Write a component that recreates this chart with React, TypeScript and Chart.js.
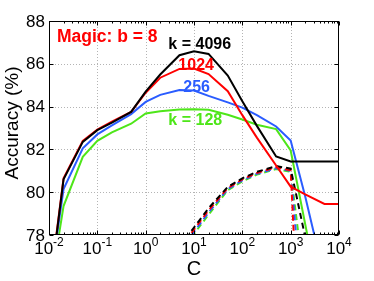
import React, { useEffect, useRef } from 'react';
import { Chart, registerables } from 'chart.js';

Chart.register(...registerables);

// ---------- data ----------
const cValues = [0.01, 0.02, 0.05, 0.1, 0.2, 0.5, 1, 2, 5, 10, 20, 50, 100, 200, 500, 1000, 2000, 5000, 10000];
const solidK4096 = [75.2, 80.6, 82.35, 82.9, 83.25, 83.75, 84.7, 85.5, 86.4, 86.58, 86.46, 85.45, 84.25, 83.1, 81.67, 81.44, 81.44, 81.44, 81.44];
const solidK1024 = [75.3, 80.65, 82.4, 82.92, 83.3, 83.75, 84.65, 85.35, 85.76, 85.78, 85.52, 84.72, 83.6, 82.55, 81.25, 80.26, 79.9, 79.45, 79.45];
const solidK256 = [75.4, 80.15, 82.05, 82.7, 83.12, 83.65, 84.22, 84.55, 84.77, 84.75, 84.5, 84.2, 83.95, 83.6, 83.07, 82.42, 79.8, 76.0, 75.5];
const solidK128 = [75.1, 79.35, 81.65, 82.4, 82.8, 83.2, 83.68, 83.78, 83.87, 83.88, 83.85, 83.62, 83.4, 83.15, 82.95, 81.95, 78.5, 74.0, 73.5];

const dashedC = [5, 10, 20, 50, 100, 200, 500, 1000, 2000];
const dashedK4096 = [77.45, 78.35, 79.25, 80.25, 80.65, 80.95, 81.22, 81.1, 77.9];
const dashedK1024 = [77.35, 78.25, 79.15, 80.2, 80.6, 80.9, 81.17, 81.02, 67.0];
const dashedK256 = [77.25, 78.15, 79.05, 80.15, 80.55, 80.86, 81.12, 81.0, 73.0];
const dashedK128 = [77.15, 78.05, 78.95, 80.1, 80.5, 80.82, 81.08, 80.95, 75.5];

const xDecades = [-2, -1, 0, 1, 2, 3, 4];
const yTicks = [78, 80, 82, 84, 86, 88];

// text annotations (placed in data coordinates)
const noteTexts = ['Magic: b = 8', 'k = 4096', '1024', '256', 'k = 128'];
const noteC = [0.0146, 2.95, 4.74, 6.0, 2.95];
const noteAcc = [87.01, 86.67, 85.69, 84.68, 83.13];

// ---------- styles ----------
const BLACK = '#000000';
const RED = '#ff0000';
const BLUE = '#2a5cff';
const GREEN = '#4ee619';
const noteColors = [RED, BLACK, RED, BLUE, GREEN];
const noteSizes = [17.5, 16, 16, 16, 16];
const FONT = '"Liberation Sans", Arial, Helvetica, sans-serif';

const axesPlugin = {
  id: 'matlabAxes',
  beforeDatasetsDraw(chart: any) {
    const { ctx, chartArea: a, scales } = chart;
    const x = scales.x;
    const y = scales.y;
    ctx.save();
    ctx.strokeStyle = '#b4b4b4';
    ctx.lineWidth = 1;
    ctx.setLineDash([1, 2]);
    for (const d of xDecades) {
      const px = Math.round(x.getPixelForValue(Math.pow(10, d))) + 0.5;
      if (px <= a.left + 1 || px >= a.right - 1) continue;
      ctx.beginPath();
      ctx.moveTo(px, a.top);
      ctx.lineTo(px, a.bottom);
      ctx.stroke();
    }
    for (const v of yTicks) {
      const py = Math.round(y.getPixelForValue(v)) + 0.5;
      if (py <= a.top + 1 || py >= a.bottom - 1) continue;
      ctx.beginPath();
      ctx.moveTo(a.left, py);
      ctx.lineTo(a.right, py);
      ctx.stroke();
    }
    ctx.restore();
  },
  afterDatasetsDraw(chart: any) {
    const { ctx, chartArea: a, scales } = chart;
    const x = scales.x;
    const y = scales.y;
    const L = Math.round(a.left) + 0.5;
    const R = Math.round(a.right) - 0.5;
    const T = Math.round(a.top) + 0.5;
    const B = Math.round(a.bottom) - 0.5;
    ctx.save();
    ctx.setLineDash([]);
    ctx.strokeStyle = '#000';
    ctx.lineWidth = 1;
    ctx.strokeRect(L, T, R - L, B - T);
    // x ticks (major + minor), inward, top & bottom
    ctx.beginPath();
    for (let d = -2; d <= 4; d++) {
      for (let k = 1; k <= 9; k++) {
        const v = k * Math.pow(10, d);
        if (v > 10000 + 1e-9) continue;
        const px = Math.round(x.getPixelForValue(v)) + 0.5;
        const len = k === 1 ? 4 : 2;
        ctx.moveTo(px, B);
        ctx.lineTo(px, B - len);
        ctx.moveTo(px, T);
        ctx.lineTo(px, T + len);
      }
    }
    for (const v of yTicks) {
      const py = Math.round(y.getPixelForValue(v)) + 0.5;
      ctx.moveTo(L, py);
      ctx.lineTo(L + 4, py);
      ctx.moveTo(R, py);
      ctx.lineTo(R - 4, py);
    }
    ctx.stroke();

    // y tick labels
    ctx.fillStyle = '#000';
    ctx.font = `17px ${FONT}`;
    ctx.textAlign = 'right';
    ctx.textBaseline = 'middle';
    for (const v of yTicks) {
      ctx.fillText(String(v), a.left - 4, y.getPixelForValue(v) + 1);
    }
    // x tick labels 10^d
    ctx.textAlign = 'left';
    ctx.textBaseline = 'alphabetic';
    for (const d of xDecades) {
      const px = x.getPixelForValue(Math.pow(10, d));
      ctx.font = `17px ${FONT}`;
      const wb = ctx.measureText('10').width;
      ctx.font = `12px ${FONT}`;
      const exp = String(d);
      const we = ctx.measureText(exp).width;
      const start = px - (wb + we) / 2;
      ctx.font = `17px ${FONT}`;
      ctx.fillText('10', start, a.bottom + 18.5);
      ctx.font = `12px ${FONT}`;
      ctx.fillText(exp, start + wb, a.bottom + 11);
    }
    // axis titles
    ctx.font = `20px ${FONT}`;
    ctx.textAlign = 'center';
    ctx.textBaseline = 'middle';
    ctx.fillText('C', (a.left + a.right) / 2, 269);
    ctx.save();
    ctx.translate(13, (a.top + a.bottom) / 2 - 5);
    ctx.rotate(-Math.PI / 2);
    ctx.font = `19px ${FONT}`;
    ctx.fillText('Accuracy (%)', 0, 0);
    ctx.restore();

    // annotations
    ctx.textAlign = 'left';
    ctx.textBaseline = 'alphabetic';
    noteTexts.forEach((t, i) => {
      ctx.font = `bold ${noteSizes[i]}px ${FONT}`;
      ctx.fillStyle = noteColors[i];
      ctx.fillText(t, x.getPixelForValue(noteC[i]), y.getPixelForValue(noteAcc[i]));
    });
    ctx.restore();
  },
};

export default function App() {
  const ref = useRef<HTMLCanvasElement>(null);
  useEffect(() => {
    const canvas = ref.current;
    if (!canvas) return;
    const pts = (xs: number[], ys: number[]) => xs.map((c, i) => ({ x: c, y: ys[i] }));
    const solid = (label: string, ys: number[], color: string) => ({
      label,
      data: pts(cValues, ys),
      borderColor: color,
      backgroundColor: color,
      borderWidth: 2,
      pointRadius: 0,
      tension: 0,
      fill: false,
      clip: 0,
    });
    const dashed = (label: string, ys: number[], color: string) => ({
      label,
      data: pts(dashedC, ys),
      borderColor: color,
      backgroundColor: color,
      borderWidth: 2,
      borderDash: [6, 4],
      pointRadius: 0,
      tension: 0,
      fill: false,
      clip: 0,
    });
    const chart = new Chart(canvas, {
      type: 'line',
      data: {
        datasets: [
          solid('k = 4096', solidK4096, BLACK),
          solid('k = 1024', solidK1024, RED),
          solid('k = 256', solidK256, BLUE),
          solid('k = 128', solidK128, GREEN),
          dashed('k = 4096 (dashed)', dashedK4096, BLACK),
          dashed('k = 1024 (dashed)', dashedK1024, RED),
          dashed('k = 256 (dashed)', dashedK256, BLUE),
          dashed('k = 128 (dashed)', dashedK128, GREEN),
        ] as any,
      },
      options: {
        responsive: false,
        maintainAspectRatio: false,
        animation: false,
        layout: { padding: { left: 49, right: 35, top: 21, bottom: 46 } },
        plugins: { legend: { display: false }, tooltip: { enabled: false } },
        scales: {
          x: { type: 'logarithmic', min: 0.01, max: 10000, display: false },
          y: { type: 'linear', min: 78, max: 88, display: false },
        },
      } as any,
      plugins: [axesPlugin as any],
    });
    return () => chart.destroy();
  }, []);
  return (
    <div style={{ position: 'fixed', left: 0, top: 0, width: 374, height: 281, background: '#fff' }}>
      <canvas ref={ref} width={374} height={281} style={{ display: 'block' }} />
    </div>
  );
}
